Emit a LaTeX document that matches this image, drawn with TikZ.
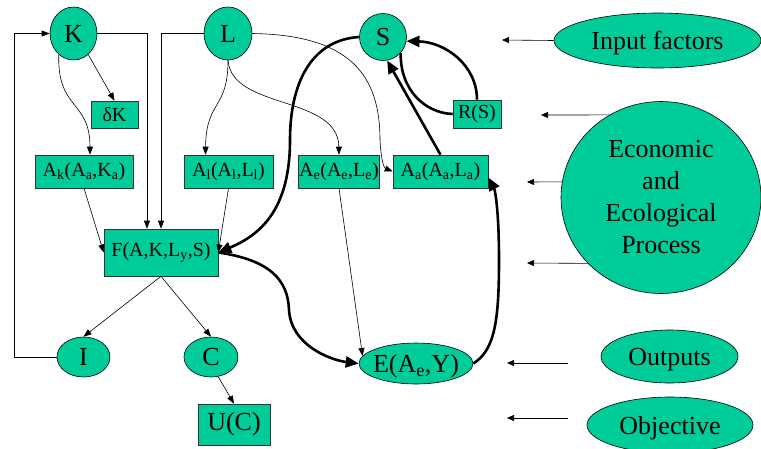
\documentclass[tikz,border=0pt]{standalone}
\usepackage{fontspec}
\setmainfont{Liberation Serif}
\usetikzlibrary{shapes.geometric,arrows.meta}
\definecolor{teal1}{RGB}{0,204,153}
\begin{document}
\begin{tikzpicture}[x=1pt,y=-1pt,
 big/.style={font=\fontsize{26}{32}\selectfont},
 small/.style={font=\fontsize{20}{22}\selectfont},
 oval/.style={ellipse,draw=black,line width=0.6pt,fill=teal1,inner sep=0pt,big,align=center},
 box/.style={rectangle,draw=black!80,line width=0.6pt,fill=teal1,inner sep=0pt,small},
 thinarr/.style={line width=0.6pt,-{Triangle[length=8pt,width=6pt]}},
 thickarr/.style={line width=2.6pt,-{Triangle[length=13pt,width=11pt]}},
 thickline/.style={line width=2.6pt},
 legarr/.style={line width=0.6pt,-{Triangle[length=7pt,width=6pt]}}
]
\useasboundingbox (0,0) rectangle (761,448);
% main nodes
\node[oval,minimum width=47pt,minimum height=53pt] (K) at (73.5,33.5) {K};
\node[oval,minimum width=48pt,minimum height=53pt] (L) at (228,33.5) {L};
\node[oval,minimum width=47pt,minimum height=47pt] (S) at (383,37) {S};
\node[box,minimum width=47pt,minimum height=27pt] (dK) at (114.5,114.5) {δK};
\node[box,minimum width=48pt,minimum height=28pt] (RS) at (477,114) {R(S)};
\node[box,minimum width=98pt,minimum height=33pt] (Ak) at (84,171.5) {A\textsubscript{k}(A\textsubscript{a},K\textsubscript{a})};
\node[box,minimum width=89pt,minimum height=33pt] (Al) at (228.5,171.5) {A\textsubscript{l}(A\textsubscript{l},L\textsubscript{l})};
\node[box,minimum width=81pt,minimum height=33pt] (Ae) at (339,171.5) {A\textsubscript{e}(A\textsubscript{e},L\textsubscript{e})};
\node[box,minimum width=95pt,minimum height=33pt] (Aa) at (440.5,171.5) {A\textsubscript{a}(A\textsubscript{a},L\textsubscript{a})};
\node[box,minimum width=114pt,minimum height=47pt] (F) at (161,252.5) {F(A,K,L\textsubscript{y},S)};
\node[oval,minimum width=53pt,minimum height=40pt] (I) at (83.5,357) {I};
\node[oval,minimum width=54pt,minimum height=40pt] (C) at (211,357) {C};
\node[box,big,minimum width=72pt,minimum height=41pt] (U) at (234,424.5) {U(C)};
\node[oval,text depth=0pt,minimum width=114pt,minimum height=41pt] (E) at (416,363.5) {\makebox[0pt]{E(A\textsubscript{e},Y)}};
% legend
\node[oval,text depth=0pt,minimum width=207pt,minimum height=55pt] (inp) at (657.5,40.5) {Input factors};
\node[oval,minimum width=200pt,minimum height=192pt] (eco) at (661,197.5) {Economic\\and\\Ecological\\Process};
\node[oval,text depth=0pt,minimum width=137pt,minimum height=53pt] (out) at (669.5,356.5) {Outputs};
\node[oval,text depth=0pt,minimum width=166pt,minimum height=56pt] (obj) at (670,425) {Objective};
\coordinate (t1) at (502,40);
\coordinate (t2) at (541,115);
\coordinate (t3) at (527,182);
\coordinate (t4) at (527,263);
\coordinate (s5) at (568,363);
\coordinate (t5) at (507,363);
\coordinate (s6) at (568,418);
\coordinate (t6) at (507,418);
\draw[legarr] (inp.west) -- (t1);
\draw[legarr] (eco.122) -- (t2);
\draw[legarr] (eco.171) -- (t3);
\draw[legarr] (eco.222) -- (t4);
\draw[legarr] (s5) -- (t5);
\draw[legarr] (s6) -- (t6);
% thin connectors
\draw[thinarr] (K.-55) -- (dK.north);
\draw[thinarr] (K.235) .. controls (57,110) and (90,100) .. ([xshift=6pt]Ak.north);
\draw[thinarr] (K.east) -| ([xshift=-14pt]F.north);
\draw[thinarr] (L.west) -| (F.north);
\draw[thinarr] (I.west) -- ++(-42,0) |- (K.west);
\draw[thinarr] (L.south) .. controls (228,110) and (206,100) .. ([xshift=-23pt]Al.north);
\draw[thinarr] (L.south) .. controls (232,110) and (338,95) .. (Ae.north);
\draw[thinarr] (L.east) .. controls (350,35) and (380,75) .. (380,140) .. controls (381,160) and (384,168) .. (Aa.west);
\draw[thinarr] (Ak.south) -- (F.west);
\draw[thinarr] (Al.south) -- (F.east);
\draw[thinarr] (Ae.south) -- (E.172);
\draw[thinarr] (F.south) -- (I.north);
\draw[thinarr] (F.south) -- (C.north);
\draw[thinarr] (C.-70) -- (U.north);
% thick connectors
\draw[thickarr] (S.west) .. controls (310,40) and (290,85) .. (290,140) .. controls (290,210) and (260,235) .. (F.east);
\draw[thickarr] (F.east) .. controls (270,260) and (288,280) .. (289,310) .. controls (291,345) and (330,360) .. (E.west);
\draw[thickarr] (E.east) .. controls (495,350) and (499,320) .. (499,260) .. controls (499,210) and (495,190) .. ([yshift=-6pt]Aa.east);
\draw[thickarr] (Aa.north) -- (S.-80);
\draw[thickarr] (RS.north) .. controls (477,65) and (445,42) .. (S.-10);
\draw[thickline] (S.-42) .. controls (400,90) and (425,113) .. (RS.west);
\end{tikzpicture}
\end{document}
